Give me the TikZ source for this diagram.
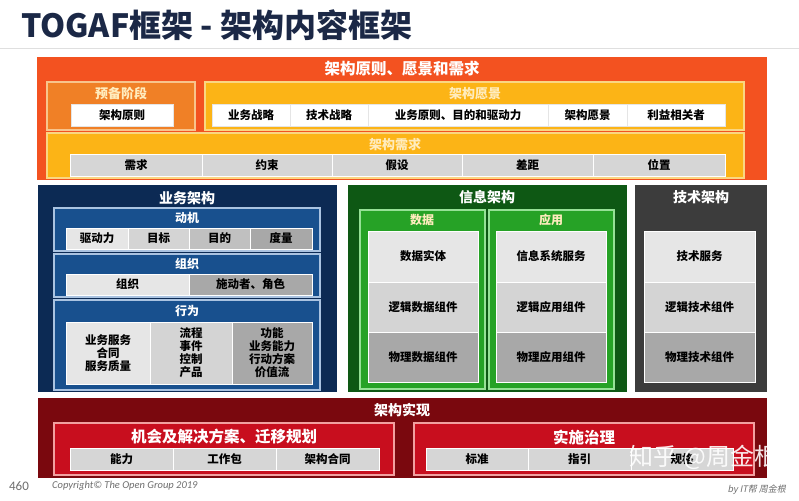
\documentclass[tikz,border=0pt]{standalone}
\usepackage{fontspec}
\setmainfont{Noto Sans CJK SC}
\newfontfamily\copyfont{Carlito}
\newfontfamily\slantcjk[FakeSlant=0.2]{Noto Sans CJK SC}
\usepackage{xcolor}
\usepackage{tikz}
\usetikzlibrary{positioning}

\definecolor{titlenavy}{RGB}{27,40,70}
\definecolor{redorange}{RGB}{243,82,32}
\definecolor{prepfill}{RGB}{240,128,38}
\definecolor{prepedge}{RGB}{248,196,140}
\definecolor{amber}{RGB}{252,180,22}
\definecolor{amberedge}{RGB}{250,214,130}
\definecolor{paleyellow}{RGB}{255,236,190}
\definecolor{navy}{RGB}{12,42,84}
\definecolor{bluemid}{RGB}{24,80,142}
\definecolor{blueedge}{RGB}{170,195,225}
\definecolor{dgreen}{RGB}{14,88,20}
\definecolor{bgreen}{RGB}{38,162,38}
\definecolor{greenedge}{RGB}{150,225,150}
\definecolor{techgray}{RGB}{60,60,60}
\definecolor{dred}{RGB}{122,8,14}
\definecolor{bred}{RGB}{200,14,30}
\definecolor{rededge}{RGB}{242,160,160}
\definecolor{gone}{RGB}{230,230,230}
\definecolor{gtwo}{RGB}{212,212,212}
\definecolor{gthree}{RGB}{192,192,192}
\definecolor{gfour}{RGB}{168,168,168}
\definecolor{rowgray}{RGB}{214,214,214}
\definecolor{footgray}{RGB}{110,110,110}

\begin{document}
\begin{tikzpicture}[x=1pt, y=-1pt,
    panel/.style={rectangle, anchor=north west, inner sep=0pt, outer sep=0pt},
    subpanel/.style={panel, draw=#1, line width=1.2pt},
    cell/.style={rectangle, inner sep=0pt, outer sep=0pt, draw=white, line width=0.6pt, text=black, font=\bfseries\fontsize{11.5}{13}\selectfont, minimum height=22pt},
    head/.style={inner sep=0pt, text=white, font=\bfseries\fontsize{13}{14}\selectfont},
    bighead/.style={head, font=\bfseries\fontsize{15.5}{16}\selectfont},
  ]
  \useasboundingbox (0,0) rectangle (799,500);
  \fill[white] (0,0) rectangle (799,500);

  %Title
  \node[anchor=west, inner sep=0pt, text=titlenavy, font=\bfseries\fontsize{32}{34}\selectfont] (title) at (21,25) {TOGAF框架 - 架构内容框架};
  \draw[gray!25, line width=0.8pt] (0,48) -- (799,48);

  %Principles, vision and requirements
  \node[panel, fill=redorange, minimum width=730pt, minimum height=123pt] (principles) at (37,57) {};
  \node[bighead] (principles_title) at (402,69) {架构原则、愿景和需求};

  \node[subpanel=prepedge, fill=prepfill, minimum width=148pt, minimum height=48pt] (prelim) at (47,82) {};
  \node[head, text=paleyellow] (prelim_title) at (121,94) {预备阶段};
  \node[cell, fill=white, draw=gray!20, minimum width=102pt, anchor=north west] (prelim_principles) at (71,104) {架构原则};

  \node[subpanel=amberedge, fill=amber, minimum width=539pt, minimum height=48pt] (vision) at (205,82) {};
  \node[head, text=paleyellow] (vision_title) at (475,94) {架构愿景};
  \node[cell, fill=white, draw=gray!20, minimum width=78pt, anchor=north west] (vision_1) at (212,104) {业务战略};
  \node[cell, fill=white, draw=gray!20, minimum width=78pt, right=0pt of vision_1] (vision_2) {技术战略};
  \node[cell, fill=white, draw=gray!20, minimum width=180pt, right=0pt of vision_2] (vision_3) {业务原则、目的和驱动力};
  \node[cell, fill=white, draw=gray!20, minimum width=79pt, right=0pt of vision_3] (vision_4) {架构愿景};
  \node[cell, fill=white, draw=gray!20, minimum width=98pt, right=0pt of vision_4] (vision_5) {利益相关者};

  \node[subpanel=amberedge, fill=amber, minimum width=697pt, minimum height=45pt] (reqs) at (47,133) {};
  \node[head, text=paleyellow] (reqs_title) at (395,145) {架构需求};
  \node[cell, fill=rowgray, minimum width=132pt, anchor=north west] (reqs_1) at (70,154) {需求};
  \node[cell, fill=rowgray, minimum width=130pt, right=0pt of reqs_1] (reqs_2) {约束};
  \node[cell, fill=rowgray, minimum width=130pt, right=0pt of reqs_2] (reqs_3) {假设};
  \node[cell, fill=rowgray, minimum width=131pt, right=0pt of reqs_3] (reqs_4) {差距};
  \node[cell, fill=rowgray, minimum width=132pt, right=0pt of reqs_4] (reqs_5) {位置};

  %Business architecture
  \node[panel, fill=navy, minimum width=299pt, minimum height=207pt] (business) at (38,185) {};
  \node[head, font=\bfseries\fontsize{14}{15}\selectfont] (business_title) at (187,198) {业务架构};

  \node[subpanel=blueedge, fill=bluemid, minimum width=266pt, minimum height=43pt] (motive) at (54,208) {};
  \node[head, font=\bfseries\fontsize{12}{13}\selectfont] (motive_title) at (187,218) {动机};
  \node[cell, fill=gone, minimum width=62pt, minimum height=21pt, anchor=north west] (motive_1) at (66,228) {驱动力};
  \node[cell, fill=gtwo, minimum width=61pt, minimum height=21pt, right=0pt of motive_1] (motive_2) {目标};
  \node[cell, fill=gthree, minimum width=61pt, minimum height=21pt, right=0pt of motive_2] (motive_3) {目的};
  \node[cell, fill=gfour, minimum width=62pt, minimum height=21pt, right=0pt of motive_3] (motive_4) {度量};

  \node[subpanel=blueedge, fill=bluemid, minimum width=266pt, minimum height=43pt] (org) at (54,254) {};
  \node[head, font=\bfseries\fontsize{12}{13}\selectfont] (org_title) at (187,264) {组织};
  \node[cell, fill=gone, minimum width=123pt, minimum height=21pt, anchor=north west] (org_1) at (66,274) {组织};
  \node[cell, fill=gfour, minimum width=123pt, minimum height=21pt, right=0pt of org_1] (org_2) {施动者、角色};

  \node[subpanel=blueedge, fill=bluemid, minimum width=266pt, minimum height=90pt] (behave) at (54,300) {};
  \node[head, font=\bfseries\fontsize{12}{13}\selectfont] (behave_title) at (187,311) {行为};
  \node[cell, fill=gone, minimum width=84pt, minimum height=62pt, align=center, anchor=north west] (behave_1) at (66,322) {业务服务\\合同\\服务质量};
  \node[cell, fill=gtwo, minimum width=82pt, minimum height=62pt, align=center, right=0pt of behave_1] (behave_2) {流程\\事件\\控制\\产品};
  \node[cell, fill=gfour, minimum width=80pt, minimum height=62pt, align=center, right=0pt of behave_2] (behave_3) {功能\\业务能力\\行动方案\\价值流};

  %Information architecture
  \node[panel, fill=dgreen, minimum width=279pt, minimum height=207pt] (info) at (348,185) {};
  \node[head, font=\bfseries\fontsize{14}{15}\selectfont] (info_title) at (487,197) {信息架构};

  \node[subpanel=greenedge, fill=bgreen, minimum width=125pt, minimum height=179pt] (data) at (360,210) {};
  \node[head, text=paleyellow, font=\bfseries\fontsize{12}{13}\selectfont] (data_title) at (422,220) {数据};
  \node[cell, fill=gone, minimum width=110pt, minimum height=51pt, anchor=north west] (data_1) at (368,231) {数据实体};
  \node[cell, fill=gtwo, minimum width=110pt, minimum height=50pt, below=0pt of data_1] (data_2) {逻辑数据组件};
  \node[cell, fill=gfour, minimum width=110pt, minimum height=50pt, below=0pt of data_2] (data_3) {物理数据组件};

  \node[subpanel=greenedge, fill=bgreen, minimum width=125pt, minimum height=179pt] (app) at (489,210) {};
  \node[head, text=paleyellow, font=\bfseries\fontsize{12}{13}\selectfont] (app_title) at (551,220) {应用};
  \node[cell, fill=gone, minimum width=110pt, minimum height=51pt, anchor=north west] (app_1) at (496,231) {信息系统服务};
  \node[cell, fill=gtwo, minimum width=110pt, minimum height=50pt, below=0pt of app_1] (app_2) {逻辑应用组件};
  \node[cell, fill=gfour, minimum width=110pt, minimum height=50pt, below=0pt of app_2] (app_3) {物理应用组件};

  %Technology architecture
  \node[panel, fill=techgray, minimum width=132pt, minimum height=207pt] (tech) at (635,185) {};
  \node[head, font=\bfseries\fontsize{14}{15}\selectfont] (tech_title) at (701,197) {技术架构};
  \node[cell, fill=gone, minimum width=111pt, minimum height=51pt, anchor=north west] (tech_1) at (644,231) {技术服务};
  \node[cell, fill=gtwo, minimum width=111pt, minimum height=50pt, below=0pt of tech_1] (tech_2) {逻辑技术组件};
  \node[cell, fill=gfour, minimum width=111pt, minimum height=50pt, below=0pt of tech_2] (tech_3) {物理技术组件};

  %Realization
  \node[panel, fill=dred, minimum width=729pt, minimum height=80pt] (realize) at (38,398) {};
  \node[head, font=\bfseries\fontsize{14}{15}\selectfont] (realize_title) at (402,410) {架构实现};

  \node[subpanel=rededge, fill=bred, minimum width=340pt, minimum height=52pt] (migrate) at (54,423) {};
  \node[bighead] (migrate_title) at (224,437) {机会及解决方案、迁移规划};
  \node[cell, fill=rowgray, minimum width=103pt, anchor=north west] (migrate_1) at (70,448) {能力};
  \node[cell, fill=rowgray, minimum width=103pt, right=0pt of migrate_1] (migrate_2) {工作包};
  \node[cell, fill=rowgray, minimum width=103pt, right=0pt of migrate_2] (migrate_3) {架构合同};

  \node[subpanel=rededge, fill=bred, minimum width=340pt, minimum height=52pt] (govern) at (414,423) {};
  \node[bighead] (govern_title) at (584,437) {实施治理};
  \node[cell, fill=rowgray, minimum width=102pt, anchor=north west] (govern_1) at (426,448) {标准};
  \node[cell, fill=rowgray, minimum width=103pt, right=0pt of govern_1] (govern_2) {指引};
  \node[cell, fill=rowgray, minimum width=102pt, right=0pt of govern_2] (govern_3) {规格};

  %Footer
  \node[inner sep=0pt, text=footgray, font=\copyfont\fontsize{13}{14}\selectfont] (pageno) at (19,486) {460};
  \node[anchor=west, inner sep=0pt, text=footgray, font=\copyfont\itshape\fontsize{10.5}{12}\selectfont] (copyright) at (52,486) {Copyright© The Open Group 2019};
  \node[anchor=east, inner sep=0pt, text=footgray, font=\slantcjk\fontsize{9}{10}\selectfont] (byline) at (786,490) {by IT帮 周金根};
  \node[inner sep=0pt, text=white, opacity=0.9, font=\fontsize{24}{25}\selectfont] (watermark) at (704,457) {知乎 @周金根};
\end{tikzpicture}
\end{document}
